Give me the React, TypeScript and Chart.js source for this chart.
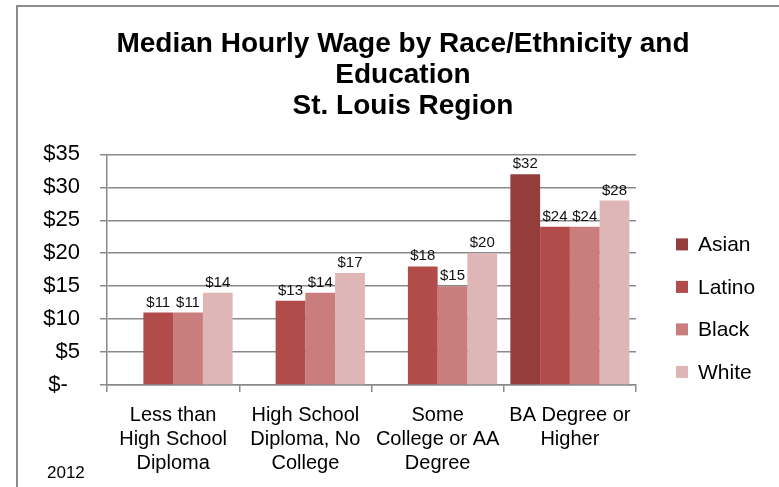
import React, { useEffect, useRef } from "react";
import { Chart, registerables } from "chart.js";

Chart.register(...registerables);

// ---- Data ----
const CATEGORIES: string[][] = [
  ["Less than", "High School", "Diploma"],
  ["High School", "Diploma, No", "College"],
  ["Some", "College or AA", "Degree"],
  ["BA Degree or", "Higher"],
];
const SERIES_NAMES = ["Asian", "Latino", "Black", "White"];
const ASIAN: (number | null)[] = [null, null, null, 32];
const LATINO: (number | null)[] = [11, 12.8, 18, 24];
const BLACK: (number | null)[] = [11, 14, 15, 24];
const WHITE: (number | null)[] = [14, 17, 20, 28];
const Y_MIN = 0;
const Y_MAX = 35;
const Y_STEP = 5;
const TITLE_LINES = [
  "Median Hourly Wage by Race/Ethnicity and",
  "Education",
  "St. Louis Region",
];
const FOOTNOTE = "2012";

// ---- Styles ----
const COLORS = ["#953d3c", "#b24c4a", "#c97d7c", "#dfb6b6"];
const FONT = "'Liberation Sans', Arial, Helvetica, sans-serif";
const GRID = "#8a8a8a";

const barLabels = {
  id: "barLabels",
  afterDatasetsDraw(chart: any) {
    const ctx = chart.ctx;
    ctx.save();
    ctx.font = `15px ${FONT}`;
    ctx.fillStyle = "#111";
    ctx.textAlign = "center";
    ctx.textBaseline = "alphabetic";
    chart.data.datasets.forEach((ds: any, i: number) => {
      const meta = chart.getDatasetMeta(i);
      meta.data.forEach((el: any, j: number) => {
        const v = ds.data[j];
        if (v == null) return;
        ctx.fillText("$" + Math.round(v), el.x, el.y - 6);
      });
    });
    ctx.restore();
  },
};

const sideLegend = {
  id: "sideLegend",
  afterDraw(chart: any) {
    const ctx = chart.ctx;
    const area = chart.chartArea;
    ctx.save();
    ctx.font = `21px ${FONT}`;
    ctx.textAlign = "left";
    ctx.textBaseline = "middle";
    const boxX = area.right + 40;
    const startY = area.top + 90;
    const gap = 42.5;
    chart.data.datasets.forEach((ds: any, i: number) => {
      const cy = startY + i * gap;
      ctx.fillStyle = ds.backgroundColor;
      ctx.fillRect(boxX, cy - 6, 12, 12);
      ctx.fillStyle = "#000";
      ctx.fillText(ds.label, boxX + 22, cy + 1);
    });
    ctx.restore();
  },
};

const footnote = {
  id: "footnote",
  afterDraw(chart: any) {
    const ctx = chart.ctx;
    ctx.save();
    ctx.font = `17px ${FONT}`;
    ctx.fillStyle = "#000";
    ctx.textAlign = "left";
    ctx.textBaseline = "alphabetic";
    ctx.fillText(FOOTNOTE, 47, chart.height - 9);
    ctx.restore();
  },
};

export default function App() {
  const canvasRef = useRef<HTMLCanvasElement | null>(null);

  useEffect(() => {
    if (!canvasRef.current) return;
    const seriesData = [ASIAN, LATINO, BLACK, WHITE];
    const chart = new Chart(canvasRef.current, {
      type: "bar",
      data: {
        labels: CATEGORIES as any,
        datasets: SERIES_NAMES.map((name, i) => ({
          label: name,
          data: seriesData[i] as any,
          backgroundColor: COLORS[i],
          borderWidth: 0,
          barPercentage: 1,
          categoryPercentage: 0.9,
        })),
      },
      options: {
        animation: false,
        responsive: true,
        maintainAspectRatio: false,
        layout: { padding: { left: 27, right: 0, top: 0, bottom: 1 } },
        plugins: {
          legend: { display: false },
          tooltip: { enabled: false },
          title: {
            display: true,
            text: TITLE_LINES,
            color: "#000",
            font: { family: FONT, size: 28, weight: "bold", lineHeight: 1.1 },
            padding: { top: 29, bottom: 33 },
          },
        },
        scales: {
          x: {
            grid: {
              display: true,
              drawOnChartArea: false,
              drawTicks: true,
              tickLength: 7,
              offset: true,
              color: GRID,
              lineWidth: 1.5,
            },
            border: { display: true, color: GRID, width: 1.5 },
            ticks: {
              color: "#000",
              font: { family: FONT, size: 20, lineHeight: 1.2 },
              padding: 11,
              maxRotation: 0,
              autoSkip: false,
            },
          },
          y: {
            min: Y_MIN,
            max: Y_MAX,
            afterFit: (scale: any) => {
              scale.width = 80;
            },
            grid: {
              color: GRID,
              lineWidth: 1.5,
              tickLength: 7,
              drawTicks: true,
            },
            border: { display: true, color: GRID, width: 1.5 },
            ticks: {
              stepSize: Y_STEP,
              color: "#000",
              font: { family: FONT, size: 22 },
              padding: 20,
              callback: (v: any) => (Number(v) === 0 ? "$-  " : "$" + v),
            },
          },
          legendSpace: {
            type: "linear",
            position: "right",
            display: true,
            grid: { display: false, drawTicks: false },
            border: { display: false },
            ticks: { display: false },
            afterFit: (scale: any) => {
              scale.width = 143;
            },
          } as any,
        },
      },
      plugins: [barLabels, sideLegend, footnote],
    });
    return () => chart.destroy();
  }, []);

  return (
    <div
      style={{
        position: "absolute",
        left: 0,
        top: 0,
        width: 779,
        height: 487,
        overflow: "hidden",
        background: "#fff",
      }}
    >
      <div
        style={{
          position: "absolute",
          left: 16,
          top: 5,
          width: 900,
          height: 700,
          border: "2px solid #8c8c8c",
          boxSizing: "border-box",
        }}
      />
      <div style={{ position: "absolute", left: 0, top: 0, width: 779, height: 487 }}>
        <canvas ref={canvasRef} />
      </div>
    </div>
  );
}
